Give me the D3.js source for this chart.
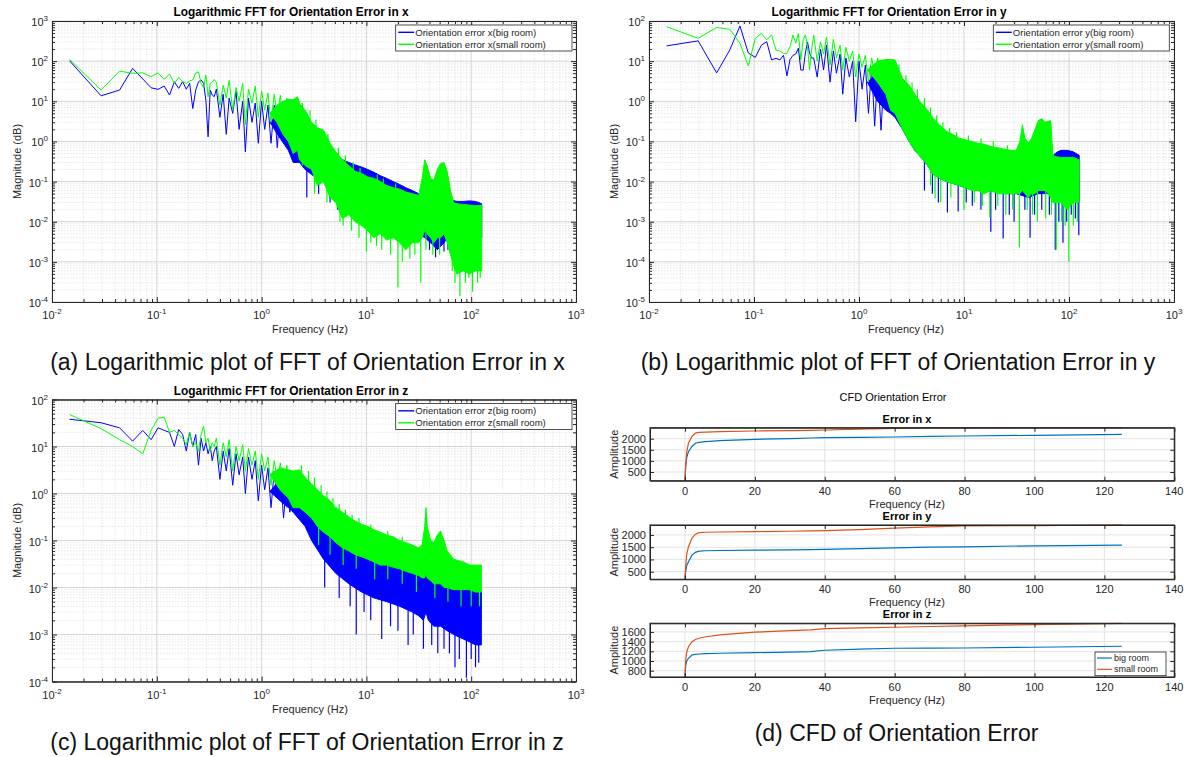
<!DOCTYPE html>
<html>
<head>
<meta charset="utf-8">
<script src="https://cdn.jsdelivr.net/npm/d3@7"></script>
<style>
  body { margin: 0; background: #fff; }
  svg { display: block; }
  text { font-family: "Liberation Sans", Arial, Helvetica, sans-serif; }
</style>
</head>
<body>
<svg id="fig" width="1190" height="757"></svg>
<script>
// ---------- FFT data ----------
// first resolved FFT bins (Hz)
const fftBins = [0.0147, 0.0294, 0.0441, 0.0588, 0.0735, 0.0882, 0.1029, 0.1176, 0.1323, 0.147,
                 0.1617, 0.1764, 0.1911, 0.2058, 0.2205, 0.2352, 0.2499, 0.2646, 0.2793, 0.294,
                 0.3087, 0.3234, 0.3381, 0.3528];
// successive peaks / troughs of the trace between 0.35 Hz and 2 Hz
const midFreqs = [0.37, 0.40, 0.43, 0.46, 0.49, 0.53, 0.57, 0.61, 0.66, 0.70, 0.75, 0.81, 0.87,
                  0.93, 1.0, 1.07, 1.15, 1.23, 1.32, 1.41, 1.51, 1.62, 1.74, 1.86, 2.0];

// x error
const xBigLow   = [102, 13.7, 19, 66, 36, 21.7, 19.8, 24, 14.3, 30.6, 21, 31, 20, 28, 6.6, 19, 30.6, 34, 28, 10.7, 1.3, 19, 14.3, 13];
const xSmallLow = [111, 19, 56.6, 49.7, 51, 41, 51, 35, 48, 28, 39, 31, 28, 32, 34, 51, 54, 28, 22, 45, 13, 28, 30, 35];
const xBigMid   = [20, 4, 15, 1.5, 12, 5, 18, 2, 10, 0.55, 12, 3, 9, 0.9, 10, 2, 8, 0.9, 8, 0.7, 6, 1.5, 7, 0.5, 6];
const xSmallMid = [30, 8, 25, 12, 33, 6, 22, 10, 28, 2.6, 20, 9, 24, 4, 18, 6, 16, 3, 15, 4, 14, 2.5, 12, 2, 11];
// dense part: [frequency, lower envelope, upper envelope]
const xBigBand = [
  [1.2, 3, 3], [1.5, 1.2, 5], [1.8, 0.6, 6],
  [2, 0.3, 6], [2.3, 0.3, 5], [2.6, 0.2, 3.5], [3, 0.15, 2], [3.4, 0.12, 1.3], [3.9, 0.1, 0.8],
  [4.5, 0.07, 0.55], [5.1, 0.06, 0.45], [5.9, 0.04, 0.35], [6.8, 0.035, 0.3], [7.8, 0.03, 0.26],
  [9, 0.025, 0.23], [10.3, 0.02, 0.2], [11.8, 0.015, 0.17], [13.6, 0.012, 0.14], [15.6, 0.01, 0.12],
  [18, 0.009, 0.1], [20.7, 0.008, 0.085], [23.8, 0.007, 0.07], [27.4, 0.006, 0.06], [31.5, 0.005, 0.05],
  [36, 0.004, 0.045], [41, 0.003, 0.045], [47.5, 0.002, 0.04], [55, 0.003, 0.04], [63.5, 0.005, 0.035],
  [73, 0.006, 0.032], [84, 0.005, 0.032], [96, 0.005, 0.033], [110, 0.004, 0.032], [126, 0.004, 0.028]
];
const xSmallBand = [
  [1.2, 5, 5], [1.4, 3, 8], [1.6, 1.5, 10], [1.8, 1, 11],
  [2, 0.5, 11], [2.2, 0.6, 13], [2.3, 0.35, 9], [2.6, 0.25, 6], [3, 0.2, 3], [3.4, 0.08, 2.2],
  [3.9, 0.1, 1.9], [4.5, 0.04, 0.9], [5.1, 0.03, 0.55], [5.9, 0.012, 0.35], [6.8, 0.015, 0.25],
  [7.8, 0.01, 0.18], [9, 0.008, 0.16], [10.3, 0.006, 0.13], [11.8, 0.004, 0.12], [13.6, 0.005, 0.1],
  [15.6, 0.0035, 0.08], [18, 0.004, 0.07], [20.7, 0.003, 0.065], [23.8, 0.002, 0.055], [27.4, 0.003, 0.05],
  [31.5, 0.003, 0.045], [34, 0.004, 0.12], [36, 0.006, 0.35], [38, 0.005, 0.25], [41, 0.004, 0.12],
  [44, 0.003, 0.11], [47.5, 0.004, 0.2], [51, 0.004, 0.28], [55, 0.005, 0.3], [59, 0.003, 0.18],
  [63.5, 0.0015, 0.06], [68, 0.0008, 0.03], [73, 0.0005, 0.028], [84, 0.0006, 0.027], [96, 0.0005, 0.026],
  [110, 0.0006, 0.025], [126, 0.0006, 0.026]
];
// isolated extremes (deep minima and sharp peaks): [frequency, magnitude]
const xBigSpikes   = [[2.7, 0.04], [3.5, 0.05], [4.5, 0.03], [5.3, 0.02], [40, 0.002], [45.7, 0.0013], [55, 0.0018], [60, 0.002],
                      [2.15, 8], [2.5, 5], [3.2, 2.5]];
const xSmallSpikes = [[2.45, 0.25], [3.2, 0.05], [4.2, 0.03], [5.6, 0.01], [6.0, 0.008], [7.2, 0.006], [8.5, 0.004],
                      [10, 0.0018], [11, 0.003], [12.5, 0.0025], [14, 0.002], [17, 0.0015], [20, 0.00023], [22, 0.001],
                      [26, 0.0012], [29, 0.0015], [33, 0.0003], [37, 0.002], [43, 0.0015], [50, 0.0015], [66, 0.0006],
                      [70, 0.0003], [78, 0.00014], [88, 0.0003], [95, 0.0004], [103, 0.00018], [115, 0.0003], [122, 0.0004],
                      [2.45, 9], [2.9, 6], [3.3, 3.5], [4.3, 1.5], [5.4, 0.7], [6.3, 0.45], [7.5, 0.3], [8.7, 0.22],
                      [12.7, 0.15], [14.5, 0.12], [19, 0.09]];

// y error
const yBigLow   = [24, 32, 5.1, 19, 75, 16, 12.4, 25, 30.5, 10.7, 11.8, 10.7, 14, 4.3, 11, 14, 15, 21, 6, 6, 16, 30, 16, 12];
const ySmallLow = [72, 37, 69, 62, 28, 7.6, 37, 49, 34, 45, 19, 18, 15.6, 15.6, 23, 45, 28, 49, 10.7, 34, 45, 23, 6, 19];
const yBigMid   = [12, 4, 20, 6, 25, 3, 18, 5, 15, 1.5, 12, 4, 10, 0.31, 10, 2, 8, 0.5, 7, 0.24, 6, 0.19, 5, 1, 6];
const ySmallMid = [45, 10, 30, 15, 40, 8, 35, 12, 25, 6, 22, 10, 18, 4, 15, 7, 14, 3, 12, 5, 12, 3, 10, 2.5, 11];
const yBigBand = [
  [1.2, 3, 3], [1.5, 1, 5], [1.8, 0.6, 5],
  [2, 0.5, 6], [2.2, 0.4, 6], [2.6, 0.2, 3], [3, 0.1, 2], [3.4, 0.06, 1.3], [3.9, 0.04, 0.8],
  [4.5, 0.025, 0.5], [5.1, 0.015, 0.3], [5.9, 0.012, 0.2], [6.8, 0.01, 0.14], [7.8, 0.009, 0.12],
  [9, 0.008, 0.09], [10.3, 0.007, 0.07], [13.6, 0.006, 0.06], [18, 0.006, 0.05], [23.8, 0.005, 0.045],
  [31.5, 0.005, 0.04], [41, 0.004, 0.04], [51, 0.005, 0.05], [63.5, 0.005, 0.05], [70, 0.004, 0.045],
  [78, 0.005, 0.055], [84, 0.005, 0.06], [96, 0.004, 0.06], [110, 0.004, 0.055], [125, 0.003, 0.045]
];
const ySmallBand = [
  [1.2, 6, 6], [1.5, 3, 10], [1.8, 1.5, 11],
  [2, 0.6, 11], [2.2, 0.5, 10.7], [2.6, 0.2, 3.7], [3, 0.1, 2.5], [3.4, 0.06, 1.5], [3.9, 0.04, 0.9],
  [4.5, 0.025, 0.6], [5.1, 0.015, 0.37], [5.9, 0.012, 0.25], [6.8, 0.01, 0.18], [7.8, 0.009, 0.15],
  [9, 0.008, 0.12], [10.3, 0.007, 0.11], [11.8, 0.006, 0.1], [13.6, 0.006, 0.09], [15.6, 0.005, 0.085],
  [18, 0.006, 0.075], [20.7, 0.005, 0.07], [23.8, 0.005, 0.065], [27.4, 0.005, 0.06], [31.5, 0.005, 0.06],
  [34, 0.005, 0.1], [36, 0.006, 0.26], [38, 0.005, 0.12], [41, 0.004, 0.09], [44, 0.005, 0.12],
  [47.5, 0.005, 0.2], [51, 0.006, 0.33], [55, 0.006, 0.37], [59, 0.006, 0.3], [63.5, 0.005, 0.32],
  [67, 0.004, 0.33], [70, 0.003, 0.05], [73, 0.003, 0.042], [84, 0.003, 0.04], [96, 0.002, 0.04],
  [110, 0.003, 0.04], [125, 0.003, 0.035]
];
const yBigSpikes   = [[4.2, 0.006], [5.0, 0.005], [5.7, 0.003], [6.95, 0.0017], [8.8, 0.0018], [10.5, 0.003], [12, 0.0025],
                      [14.5, 0.002], [18, 0.00056], [20, 0.002], [23.6, 0.00038], [27, 0.0015], [30, 0.001], [38, 0.002],
                      [42.6, 0.0004], [47, 0.0015], [55, 0.002], [65, 0.0015], [74, 0.0002], [80, 0.001], [87.6, 0.0003],
                      [95, 0.001], [105, 0.0015], [115, 0.0012], [124, 0.00046]];
const ySmallSpikes = [[4.8, 0.008], [5.3, 0.0038], [6, 0.003], [7.5, 0.004], [10, 0.002], [12.5, 0.003], [15, 0.0025],
                      [17.6, 0.0013], [21, 0.0025], [25, 0.0015], [29, 0.002], [33.7, 0.00023], [40, 0.002], [45, 0.0015],
                      [50, 0.001], [60, 0.0012], [68, 0.0015], [75.6, 0.0002], [85, 0.001], [92, 0.0008], [99.6, 0.0001],
                      [110, 0.0008], [120, 0.001],
                      [2.4, 8], [2.8, 4.5], [3.2, 3], [3.6, 2], [4.2, 1.2], [4.8, 0.7], [5.5, 0.45], [6.3, 0.3],
                      [7.3, 0.22], [8.5, 0.17], [11, 0.14], [14.5, 0.12], [19, 0.1], [26, 0.08]];

// z error
const zBigLow   = [38, 32, 25, 13, 22, 14, 25, 22, 20, 10, 23, 18, 8, 20, 10, 18, 4, 15, 8, 12, 7, 10, 5, 8];
const zSmallLow = [48, 24, 14, 10, 7, 22, 40, 42, 20, 22, 18, 15, 11, 20, 10, 12, 8, 18, 27, 12, 15, 8, 12, 10];
const zBigMid   = [10, 2, 8, 3, 9, 1.5, 7, 2.5, 6, 1, 6, 2, 5, 0.7, 4, 1.2, 3.5, 0.5, 3, 0.8, 2.5, 0.3, 2, 0.4, 2];
const zSmallMid = [15, 4, 12, 6, 14, 3, 10, 5, 11, 3, 9, 4, 8, 2, 7, 3, 6, 1.5, 5, 2, 4.5, 1, 4, 1, 3];
const zBigBand = [
  [1.2, 1.1, 1.1], [1.5, 0.7, 2], [1.8, 0.5, 2],
  [2, 0.4, 2], [2.6, 0.2, 1.3], [3, 0.1, 1], [3.9, 0.04, 0.5], [5.1, 0.02, 0.25], [6.8, 0.012, 0.15],
  [9, 0.008, 0.1], [11.8, 0.006, 0.07], [15.6, 0.005, 0.05], [20.7, 0.004, 0.04], [27.4, 0.003, 0.03],
  [31.5, 0.0025, 0.025], [35, 0.002, 0.02], [37, 0.003, 0.3], [39, 0.002, 0.03], [44, 0.0015, 0.03],
  [51, 0.0015, 0.05], [59, 0.0012, 0.02], [68, 0.001, 0.012], [84, 0.0008, 0.01], [96, 0.0007, 0.009],
  [110, 0.0006, 0.009], [125, 0.0006, 0.008]
];
const zSmallBand = [
  [1.2, 2.5, 2.5], [1.5, 1.2, 3.5], [1.8, 0.8, 3.2],
  [2, 0.5, 3], [2.3, 0.5, 3.2], [2.6, 0.4, 2.2], [3, 0.3, 1.6], [3.4, 0.2, 1.2], [3.9, 0.15, 0.9],
  [4.5, 0.12, 0.7], [5.1, 0.09, 0.5], [5.9, 0.07, 0.4], [6.8, 0.06, 0.32], [7.8, 0.05, 0.26],
  [9, 0.045, 0.22], [10.3, 0.04, 0.2], [11.8, 0.035, 0.17], [13.6, 0.03, 0.15], [15.6, 0.03, 0.13],
  [18, 0.027, 0.12], [20.7, 0.025, 0.1], [23.8, 0.022, 0.09], [27.4, 0.02, 0.08], [31.5, 0.018, 0.07],
  [34, 0.016, 0.08], [36, 0.016, 0.2], [37, 0.02, 0.5], [38, 0.016, 0.2], [41, 0.014, 0.1],
  [44, 0.012, 0.09], [47.5, 0.012, 0.13], [51, 0.012, 0.16], [55, 0.01, 0.1], [59, 0.01, 0.06],
  [68, 0.009, 0.04], [84, 0.009, 0.035], [96, 0.009, 0.03], [110, 0.008, 0.03], [125, 0.008, 0.03]
];
const zBigSpikes   = [[4, 0.01], [5.5, 0.006], [7, 0.004], [8, 0.001], [9.5, 0.003], [11, 0.002], [14, 0.0008], [17, 0.0015],
                      [20, 0.0012], [25, 0.0006], [28, 0.001], [35, 0.0005], [42, 0.0006], [48, 0.0004], [55, 0.0005],
                      [62, 0.0004], [70, 0.0002], [77, 0.0003], [90, 0.00012], [100, 0.0003], [110, 0.0002], [118, 0.00025]];
const zSmallSpikes = [[3.5, 0.08], [4.5, 0.05], [6, 0.03], [8, 0.025], [12, 0.015], [16, 0.015], [22, 0.012], [30, 0.008],
                      [45, 0.006], [60, 0.005], [80, 0.004], [100, 0.004], [120, 0.004],
                      [2.4, 4], [2.8, 3], [3.2, 2.2], [3.7, 1.5], [4.2, 1.1], [4.8, 0.8], [5.5, 0.6], [6.3, 0.45],
                      [7.3, 0.35], [8.5, 0.3], [11, 0.22], [16, 0.16], [22, 0.12]];

// ---------- cumulative spectrum (CFD) data ----------
const cfdFreq = [0, 0.2, 0.5, 1, 2, 3, 4, 6, 10, 20, 30, 36, 40, 50, 60, 70, 80, 100, 125];
const cfdXBig   = [108, 700, 1150, 1415, 1650, 1793, 1830, 1865, 1910, 1973, 2005, 2030, 2045, 2060, 2077, 2100, 2122, 2153, 2198];
const cfdXSmall = [108, 800, 1400, 1800, 2100, 2250, 2288, 2300, 2320, 2347, 2365, 2378, 2392, 2430, 2468, 2485, 2490, 2493, 2495];
const cfdYBig   = [189, 500, 750, 902, 1176, 1290, 1339, 1355, 1365, 1380, 1392, 1400, 1409, 1440, 1475, 1500, 1516, 1557, 1585];
const cfdYSmall = [189, 700, 1200, 1521, 1864, 2029, 2094, 2110, 2120, 2135, 2150, 2165, 2176, 2220, 2274, 2330, 2368, 2380, 2405];
const cfdZBig   = [670, 900, 1000, 1056, 1124, 1138, 1145, 1152, 1160, 1172, 1185, 1193, 1222, 1245, 1263, 1265, 1268, 1284, 1304];
const cfdZSmall = [670, 1000, 1180, 1296, 1400, 1445, 1470, 1500, 1538, 1594, 1625, 1641, 1668, 1685, 1697, 1712, 1724, 1751, 1778];
const cfdTicks = [0, 20, 40, 60, 80, 100, 120, 140];

const BLUE = "#0000ff", GREEN = "#00ff00";
const MBLUE = "#0072bd", MORANGE = "#d95319";
const AX = "#262626";

const svg = d3.select("#fig");

function supText(sel, base, exp, size, expSize) {
  sel.append("tspan").attr("font-size", size).text(base);
  sel.append("tspan").attr("font-size", expSize).attr("dy", -5).text(exp);
}

let clipId = 0;
function logPanel(o) {
  const g = svg.append("g");
  const x = d3.scaleLog().domain(o.xDomain).range([o.left, o.right]);
  const y = d3.scaleLog().domain(o.yDomain).range([o.bottom, o.top]);
  const isDecade = v => Math.abs(Math.log10(v) - Math.round(Math.log10(v))) < 1e-6;
  const xt = x.ticks(), yt = y.ticks();
  const xMaj = xt.filter(isDecade), xMin = xt.filter(v => !isDecade(v));
  const yMaj = yt.filter(isDecade), yMin = yt.filter(v => !isDecade(v));

  // minor grid
  const mg = g.append("g").attr("stroke", "#dcdcdc").attr("stroke-width", 0.7).attr("stroke-dasharray", "1.5,1.5");
  mg.selectAll(".vx").data(xMin).join("line").attr("x1", d => x(d)).attr("x2", d => x(d)).attr("y1", o.top).attr("y2", o.bottom);
  mg.selectAll(".hy").data(yMin).join("line").attr("y1", d => y(d)).attr("y2", d => y(d)).attr("x1", o.left).attr("x2", o.right);
  // major grid
  const Mg = g.append("g").attr("stroke", "#d5d5d5").attr("stroke-width", 1);
  Mg.selectAll(".vx").data(xMaj).join("line").attr("x1", d => x(d)).attr("x2", d => x(d)).attr("y1", o.top).attr("y2", o.bottom);
  Mg.selectAll(".hy").data(yMaj).join("line").attr("y1", d => y(d)).attr("y2", d => y(d)).attr("x1", o.left).attr("x2", o.right);

  // data
  const cid = "clip" + (clipId++);
  g.append("clipPath").attr("id", cid).append("rect")
    .attr("x", o.left).attr("y", o.top).attr("width", o.right - o.left).attr("height", o.bottom - o.top);
  const dg = g.append("g").attr("clip-path", `url(#${cid})`);
  const line = d3.line().x(d => x(d[0])).y(d => y(d[1]));
  const area = d3.area().x(d => x(d[0])).y0(d => y(d[1])).y1(d => y(d[2]));
  o.series.forEach(s => {
    const sg = dg.append("g");
    const pts = fftBins.map((f, i) => [f, s.low[i]]).concat(midFreqs.map((f, i) => [f, s.mid[i]]));
    sg.append("path").datum(pts).attr("d", line).attr("fill", "none").attr("stroke", s.color).attr("stroke-width", 1);
    sg.append("path").datum(s.band).attr("d", area).attr("fill", s.color).attr("stroke", s.color)
      .attr("stroke-width", 1).attr("stroke-linejoin", "round");
    // each spike runs from the middle of the dense band at its frequency out to its extreme value
    sg.selectAll(".spike").data(s.spikes).join("line")
      .attr("x1", d => x(d[0])).attr("x2", d => x(d[0]))
      .attr("y1", d => y(d[1]))
      .attr("y2", d => {
        const k = d3.least(s.band, b => Math.abs(Math.log(b[0] / d[0])));
        return y(Math.sqrt(k[1] * k[2]));
      })
      .attr("stroke", s.color).attr("stroke-width", 1.2);
  });

  // axes with inward ticks on all sides
  const axes = g.append("g");
  const styleAxis = sel => { sel.selectAll("path,line").attr("stroke", AX); };
  const addAxis = (gen, tx, ty) => axes.append("g").attr("transform", `translate(${tx},${ty})`).call(gen).call(styleAxis);
  addAxis(d3.axisBottom(x).tickValues(xMaj).tickSize(-5).tickSizeOuter(0).tickFormat(""), 0, o.bottom);
  addAxis(d3.axisBottom(x).tickValues(xMin).tickSize(-3).tickSizeOuter(0).tickFormat(""), 0, o.bottom);
  addAxis(d3.axisTop(x).tickValues(xMaj).tickSize(-5).tickSizeOuter(0).tickFormat(""), 0, o.top);
  addAxis(d3.axisTop(x).tickValues(xMin).tickSize(-3).tickSizeOuter(0).tickFormat(""), 0, o.top);
  addAxis(d3.axisLeft(y).tickValues(yMaj).tickSize(-5).tickSizeOuter(0).tickFormat(""), o.left, 0);
  addAxis(d3.axisLeft(y).tickValues(yMin).tickSize(-3).tickSizeOuter(0).tickFormat(""), o.left, 0);
  addAxis(d3.axisRight(y).tickValues(yMaj).tickSize(-5).tickSizeOuter(0).tickFormat(""), o.right, 0);
  addAxis(d3.axisRight(y).tickValues(yMin).tickSize(-3).tickSizeOuter(0).tickFormat(""), o.right, 0);

  // tick labels 10^n
  xMaj.forEach(v => {
    const t = g.append("text").attr("x", x(v)).attr("y", o.bottom + 17).attr("text-anchor", "middle").attr("fill", AX);
    supText(t, "10", String(Math.round(Math.log10(v))), 11, 8);
  });
  yMaj.forEach(v => {
    const t = g.append("text").attr("x", o.left - 4).attr("y", y(v) + 5).attr("text-anchor", "end").attr("fill", AX);
    supText(t, "10", String(Math.round(Math.log10(v))), 11, 8);
  });

  // titles & labels
  g.append("text").attr("x", o.titleX).attr("y", o.top - 5).attr("text-anchor", "middle")
    .attr("font-weight", "bold").attr("font-size", 11.9).attr("fill", "#000").text(o.title);
  g.append("text").attr("x", o.xLabelX).attr("y", o.bottom + 31).attr("text-anchor", "middle")
    .attr("font-size", 11).attr("fill", AX).text("Frequency (Hz)");
  g.append("text").attr("transform", `translate(${o.left - 31},${(o.top + o.bottom) / 2}) rotate(-90)`)
    .attr("text-anchor", "middle").attr("font-size", 11).attr("fill", AX).text("Magnitude (dB)");

  // legend
  const lg = g.append("g").attr("transform", `translate(${o.legend[0]},${o.legend[1]})`);
  lg.append("rect").attr("width", o.legend[2]).attr("height", 26).attr("fill", "#fff").attr("stroke", AX).attr("stroke-width", 0.8);
  o.series.forEach((s, i) => {
    const yy = 7.3 + i * 12;
    lg.append("line").attr("x1", 2.5).attr("x2", 18.5).attr("y1", yy).attr("y2", yy).attr("stroke", s.color).attr("stroke-width", 1.4);
    lg.append("text").attr("x", 19.5).attr("y", yy + 3.5).attr("font-size", 9.6).attr("fill", AX).text(s.name);
  });
}

logPanel({
  left: 52, right: 576, top: 21, bottom: 302, xDomain: [1e-2, 1e3], yDomain: [1e-4, 1e3],
  title: "Logarithmic FFT for Orientation Error in x", titleX: 291, xLabelX: 310,
  legend: [395.7, 25, 176.3],
  series: [
    { name: "Orientation error x(big room)", color: BLUE, low: xBigLow, mid: xBigMid, band: xBigBand, spikes: xBigSpikes },
    { name: "Orientation error x(small room)", color: GREEN, low: xSmallLow, mid: xSmallMid, band: xSmallBand, spikes: xSmallSpikes }
  ]
});
logPanel({
  left: 649, right: 1174, top: 21, bottom: 302, xDomain: [1e-2, 1e3], yDomain: [1e-5, 1e2],
  title: "Logarithmic FFT for Orientation Error in y", titleX: 889, xLabelX: 906,
  legend: [993.3, 25, 176],
  series: [
    { name: "Orientation error y(big room)", color: BLUE, low: yBigLow, mid: yBigMid, band: yBigBand, spikes: yBigSpikes },
    { name: "Orientation error y(small room)", color: GREEN, low: ySmallLow, mid: ySmallMid, band: ySmallBand, spikes: ySmallSpikes }
  ]
});
logPanel({
  left: 52, right: 576, top: 399.5, bottom: 681.5, xDomain: [1e-2, 1e3], yDomain: [1e-4, 1e2],
  title: "Logarithmic FFT for Orientation Error in z", titleX: 291, xLabelX: 310,
  legend: [395.7, 403.5, 176.3],
  series: [
    { name: "Orientation error z(big room)", color: BLUE, low: zBigLow, mid: zBigMid, band: zBigBand, spikes: zBigSpikes },
    { name: "Orientation error z(small room)", color: GREEN, low: zSmallLow, mid: zSmallMid, band: zSmallBand, spikes: zSmallSpikes }
  ]
});

// ---------- CFD subplots ----------
function cfdPanel(o) {
  const g = svg.append("g");
  const x = d3.scaleLinear().domain([-10, 140]).range([o.left, o.right]);
  const y = d3.scaleLinear().domain(d3.extent(o.big.concat(o.small))).range([o.bottom, o.top]);
  const yt = y.ticks(5);
  const gr = g.append("g").attr("stroke", "#e3e3e3").attr("stroke-width", 1);
  gr.selectAll(".v").data(cfdTicks).join("line").attr("x1", d => x(d)).attr("x2", d => x(d)).attr("y1", o.top).attr("y2", o.bottom);
  gr.selectAll(".h").data(yt).join("line").attr("y1", d => y(d)).attr("y2", d => y(d)).attr("x1", o.left).attr("x2", o.right);

  const line = d3.line().x(d => x(d[0])).y(d => y(d[1]));
  g.append("path").datum(cfdFreq.map((f, i) => [f, o.big[i]])).attr("d", line)
    .attr("fill", "none").attr("stroke", MBLUE).attr("stroke-width", 1.2);
  g.append("path").datum(cfdFreq.map((f, i) => [f, o.small[i]])).attr("d", line)
    .attr("fill", "none").attr("stroke", MORANGE).attr("stroke-width", 1.2);

  const styleAxis = sel => sel.selectAll("path,line").attr("stroke", AX);
  const add = (gen, tx, ty) => g.append("g").attr("transform", `translate(${tx},${ty})`).call(gen).call(styleAxis);
  add(d3.axisBottom(x).tickValues(cfdTicks).tickSize(-4).tickSizeOuter(0).tickFormat(""), 0, o.bottom);
  add(d3.axisTop(x).tickValues(cfdTicks).tickSize(-4).tickSizeOuter(0).tickFormat(""), 0, o.top);
  add(d3.axisLeft(y).tickValues(yt).tickSize(-4).tickSizeOuter(0).tickFormat(""), o.left, 0);
  add(d3.axisRight(y).tickValues(yt).tickSize(-4).tickSizeOuter(0).tickFormat(""), o.right, 0);
  g.append("rect").attr("x", o.left).attr("y", o.top).attr("width", o.right - o.left).attr("height", o.bottom - o.top)
    .attr("fill", "none").attr("stroke", AX).attr("stroke-width", 1.1);

  g.selectAll(".xl").data(cfdTicks).join("text").attr("x", d => x(d)).attr("y", o.bottom + 14)
    .attr("text-anchor", "middle").attr("font-size", 11).attr("fill", AX).text(d => d);
  g.selectAll(".yl").data(yt).join("text").attr("x", o.left - 4).attr("y", d => y(d) + 4)
    .attr("text-anchor", "end").attr("font-size", 11).attr("fill", AX).text(d => d);
  g.append("text").attr("x", 907).attr("y", o.top - 5).attr("text-anchor", "middle")
    .attr("font-weight", "bold").attr("font-size", 11).attr("fill", "#000").text(o.title);
  g.append("text").attr("x", 907).attr("y", o.bottom + 27).attr("text-anchor", "middle")
    .attr("font-size", 11).attr("fill", AX).text("Frequency (Hz)");
  g.append("text").attr("transform", `translate(${o.left - 32},${(o.top + o.bottom) / 2}) rotate(-90)`)
    .attr("text-anchor", "middle").attr("font-size", 11).attr("fill", AX).text("Amplitude");

  if (o.legend) {
    const lg = g.append("g").attr("transform", "translate(1095,652)");
    lg.append("rect").attr("width", 71).attr("height", 23.7).attr("fill", "#fff").attr("stroke", AX).attr("stroke-width", 0.8);
    [["big room", MBLUE], ["small room", MORANGE]].forEach((e, i) => {
      const yy = 6 + i * 11.3;
      lg.append("line").attr("x1", 2).attr("x2", 17).attr("y1", yy).attr("y2", yy).attr("stroke", e[1]).attr("stroke-width", 1.2);
      lg.append("text").attr("x", 19).attr("y", yy + 3).attr("font-size", 9).attr("fill", AX).text(e[0]);
    });
  }
}

svg.append("text").attr("x", 893).attr("y", 401).attr("text-anchor", "middle").attr("font-size", 11)
  .attr("fill", "#000").text("CFD Orientation Error");
cfdPanel({ left: 650, right: 1174.3, top: 427.7, bottom: 480.7, big: cfdXBig, small: cfdXSmall, title: "Error in x" });
cfdPanel({ left: 650, right: 1174.3, top: 525, bottom: 579.3, big: cfdYBig, small: cfdYSmall, title: "Error in y" });
cfdPanel({ left: 650, right: 1174.3, top: 623.3, bottom: 677, big: cfdZBig, small: cfdZSmall, title: "Error in z", legend: true });

// ---------- sub-figure captions ----------
const captions = [
  ["(a) Logarithmic plot of FFT of Orientation Error in x", 307.5, 370],
  ["(b) Logarithmic plot of FFT of Orientation Error in y", 898, 370],
  ["(c) Logarithmic plot of FFT of Orientation Error in z", 307, 750],
  ["(d) CFD of Orientation Error", 896.5, 741]
];
svg.selectAll(".cap").data(captions).join("text").attr("x", d => d[1]).attr("y", d => d[2])
  .attr("text-anchor", "middle").attr("font-size", 23).attr("fill", "#111").text(d => d[0]);
</script>
</body>
</html>
